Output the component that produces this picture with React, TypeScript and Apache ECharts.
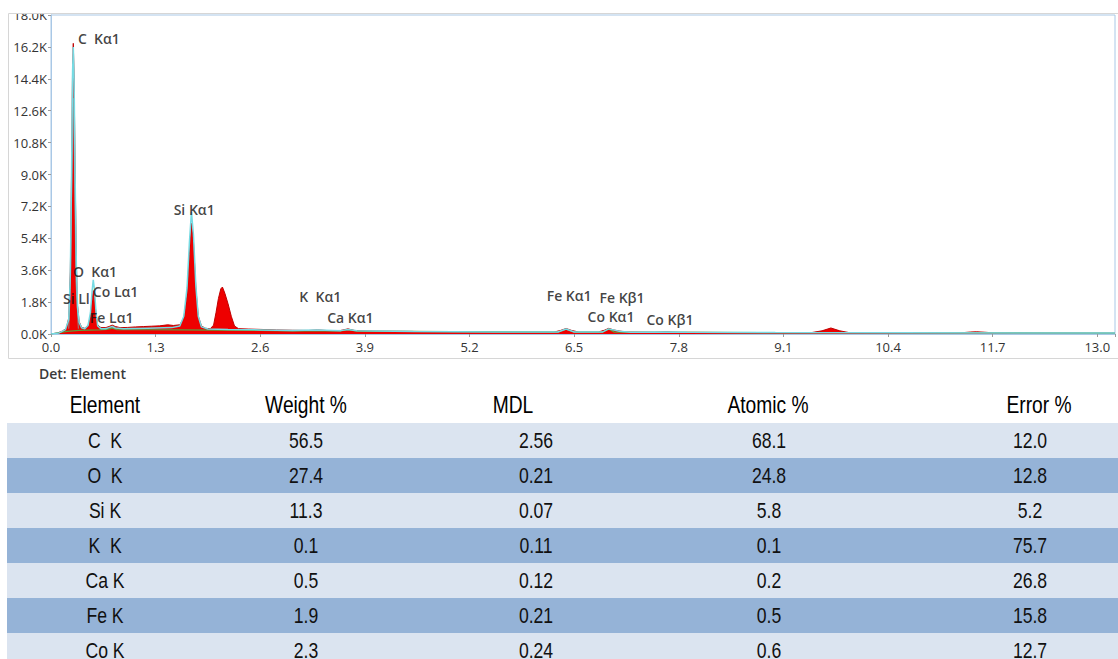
import React, { useEffect, useRef } from "react";
import * as echarts from "echarts";

// ---------- spectrum data (keV, counts) ----------
const measuredEnergy = [0, 0.08, 0.14, 0.19, 0.22, 0.24, 0.255, 0.268, 0.277, 0.287, 0.3, 0.315, 0.33, 0.35, 0.38, 0.42, 0.46, 0.49, 0.51, 0.525, 0.54, 0.56, 0.58, 0.62, 0.68, 0.72, 0.76, 0.8, 0.86, 0.95, 1.05, 1.15, 1.25, 1.35, 1.45, 1.52, 1.6, 1.65, 1.69, 1.72, 1.745, 1.77, 1.8, 1.83, 1.87, 1.92, 1.98, 2.02, 2.05, 2.08, 2.11, 2.13, 2.16, 2.2, 2.24, 2.28, 2.33, 2.45, 2.6, 2.8, 3.0, 3.2, 3.31, 3.45, 3.6, 3.69, 3.78, 4.1, 4.6, 5.2, 5.8, 6.25, 6.33, 6.4, 6.47, 6.56, 6.8, 6.88, 6.93, 6.99, 7.06, 7.15, 7.5, 7.65, 7.8, 8.4, 9.0, 9.45, 9.58, 9.69, 9.8, 9.92, 10.6, 11.3, 11.42, 11.5, 11.6, 11.72, 12.5, 13.22];
const measuredCounts = [0, 60, 160, 320, 900, 3500, 9000, 15000, 16400, 14500, 9000, 4000, 1600, 700, 380, 320, 450, 1000, 1900, 2450, 2100, 1100, 500, 360, 360, 420, 500, 420, 360, 370, 400, 420, 440, 460, 520, 480, 520, 900, 2200, 4500, 6250, 5200, 2600, 1000, 450, 320, 300, 500, 1200, 2000, 2550, 2650, 2300, 1700, 1000, 450, 300, 280, 260, 230, 210, 200, 230, 190, 200, 290, 190, 160, 140, 120, 110, 110, 200, 310, 200, 110, 110, 220, 320, 230, 170, 110, 100, 120, 95, 85, 80, 80, 180, 340, 180, 75, 70, 65, 110, 125, 100, 60, 55, 50];

const fitEnergy = [0, 0.1, 0.18, 0.22, 0.24, 0.255, 0.268, 0.277, 0.287, 0.3, 0.315, 0.33, 0.35, 0.38, 0.42, 0.46, 0.49, 0.51, 0.525, 0.54, 0.56, 0.58, 0.62, 0.68, 0.72, 0.76, 0.8, 0.9, 1.2, 1.5, 1.6, 1.65, 1.69, 1.72, 1.745, 1.77, 1.8, 1.83, 1.87, 1.95, 2.2, 2.6, 3.0, 3.31, 3.6, 3.69, 3.8, 4.5, 5.5, 6.3, 6.4, 6.5, 6.85, 6.93, 7.06, 7.2, 7.65, 7.9, 9.0, 10.5, 12.0, 13.22];
const fitCounts = [0, 60, 250, 800, 3300, 8800, 14800, 16200, 14300, 8800, 3900, 1500, 650, 350, 300, 480, 1200, 2400, 3050, 2500, 1200, 450, 300, 300, 360, 420, 340, 300, 330, 360, 450, 1000, 2600, 5200, 6900, 5600, 2700, 1000, 400, 280, 260, 230, 200, 220, 190, 260, 180, 140, 115, 110, 280, 110, 110, 290, 160, 105, 115, 95, 80, 70, 60, 55];

const bgEnergy = [0, 0.2, 0.35, 0.6, 0.7, 0.76, 0.82, 1.2, 1.6, 2.0, 2.6, 3.0, 3.6, 3.69, 3.8, 5.0, 6.3, 6.4, 6.5, 6.85, 6.93, 7.0, 8.0, 10.0, 13.22];
const bgCounts = [0, 150, 200, 230, 260, 330, 250, 240, 230, 220, 200, 180, 170, 240, 160, 130, 110, 270, 110, 105, 280, 105, 90, 70, 55];

const cEnergy = [0.22, 0.24, 0.26, 0.277, 0.29, 0.31, 0.34];
const cCounts = [300, 2500, 9000, 13300, 10000, 3000, 300];

// peak labels (anchor in keV / counts)
const peakNames = ["C  K\u03b11", "Si K\u03b11", "O  K\u03b11", "Co L\u03b11", "Si Ll", "Fe L\u03b11", "K  K\u03b11", "Ca K\u03b11", "Fe K\u03b11", "Fe K\u03b21", "Co K\u03b11", "Co K\u03b21"];
const peakLabelEnergy = [0.335, 1.524, 0.273, 0.52, 0.149, 0.483, 3.086, 3.432, 6.159, 6.815, 6.667, 7.398];
const peakLabelCounts = [16650, 7030, 3544, 2419, 2025, 956, 2138, 956, 2194, 2081, 1013, 844];

// ---------- table data ----------
const tableHeaders = ["Element", "Weight %", "MDL", "Atomic %", "Error %"];
const elements = ["C  K", "O  K", "Si K", "K  K", "Ca K", "Fe K", "Co K"];
const weightPct = ["56.5", "27.4", "11.3", "0.1", "0.5", "1.9", "2.3"];
const mdl = ["2.56", "0.21", "0.07", "0.11", "0.12", "0.21", "0.24"];
const atomicPct = ["68.1", "24.8", "5.8", "0.1", "0.2", "0.5", "0.6"];
const errorPct = ["12.0", "12.8", "5.2", "75.7", "26.8", "15.8", "12.7"];

const zip = (xs: number[], ys: number[]) => xs.map((x, i) => [x, ys[i]]);

export default function App() {
  const ref = useRef<HTMLDivElement>(null);
  useEffect(() => {
    if (!ref.current) return;
    const chart = echarts.init(ref.current, undefined, { renderer: "svg" });

    const headerX = [105, 306, 513, 768, 1039];
    const cellX = [105, 306, 536, 769, 1030];
    const rowTop = 423;
    const rowH = 35;
    const cols = [elements, weightPct, mdl, atomicPct, errorPct];

    const graphics: any[] = [];
    // cover the top of the cropped picture + outer frame
    graphics.push({ type: "rect", z: 100, shape: { x: 0, y: 0, width: 1118, height: 14 }, style: { fill: "#ffffff" } });
    graphics.push({ type: "rect", z: 101, shape: { x: 8.5, y: 13.5, width: 1130, height: 345 }, style: { fill: "none", stroke: "#d6d6d6", lineWidth: 1 } });
    graphics.push({ type: "text", z: 101, x: 39, y: 373, style: { text: "Det: Element", fill: "#3a3a3a", font: "600 14px 'Open Sans'", textVerticalAlign: "middle" } });
    tableHeaders.forEach((h, i) => {
      graphics.push({ type: "text", z: 101, x: headerX[i], y: 405, scaleX: 0.8, style: { text: h, fill: "#000", font: "24px 'Liberation Sans'", textAlign: "center", textVerticalAlign: "middle" } });
    });
    elements.forEach((_, r) => {
      graphics.push({ type: "rect", z: 100, shape: { x: 7, y: rowTop + r * rowH, width: 1111, height: rowH }, style: { fill: r % 2 === 0 ? "#dbe4f0" : "#95b3d7" } });
      cols.forEach((col, c) => {
        graphics.push({ type: "text", z: 101, x: cellX[c], y: rowTop + r * rowH + rowH / 2, scaleX: 0.8, style: { text: col[r], fill: "#111", font: "22px 'Liberation Sans'", textAlign: "center", textVerticalAlign: "middle" } });
      });
    });

    const fmtX = (v: number) => {
      const k = v / 1.3;
      return Math.abs(k - Math.round(k)) < 1e-6 ? v.toFixed(1) : "";
    };

    chart.setOption({
      animation: false,
      grid: { left: 51, top: 15, right: 0, bottom: 325, show: true, borderColor: "#a9c8e6", borderWidth: 1, containLabel: false },
      xAxis: {
        type: "value", min: 0, max: 13.22, interval: 1.3,
        axisLine: { lineStyle: { color: "#a9c8e6" } },
        axisTick: { show: true, length: 3, lineStyle: { color: "#9a9a9a" } },
        splitLine: { show: false },
        axisLabel: { formatter: fmtX, color: "#333", fontSize: 13, fontFamily: "Open Sans", margin: 6 },
      },
      yAxis: {
        type: "value", min: 0, max: 18000, interval: 1800,
        axisLine: { show: true, lineStyle: { color: "#a9c8e6" } },
        axisTick: { show: true, length: 3, lineStyle: { color: "#9a9a9a" } },
        splitLine: { show: false },
        axisLabel: { formatter: (v: number) => (v / 1000).toFixed(1) + "K", color: "#333", fontSize: 13, fontFamily: "Open Sans", margin: 4 },
      },
      series: [
        {
          type: "line", data: zip(measuredEnergy, measuredCounts), symbol: "none",
          lineStyle: { color: "#c00000", width: 1 }, areaStyle: { color: "#ee0000", opacity: 1 }, z: 2,
        },
        { type: "line", data: zip(cEnergy, cCounts), symbol: "none", lineStyle: { color: "#8a8a8a", width: 1 }, z: 3 },
        { type: "line", data: zip(bgEnergy, bgCounts), symbol: "none", lineStyle: { color: "#5a9e3c", width: 1.2 }, z: 3 },
        { type: "line", data: zip(fitEnergy, fitCounts), symbol: "none", lineStyle: { color: "#76dbe3", width: 1.5 }, z: 4 },
        {
          type: "scatter", symbolSize: 0, z: 5,
          data: peakNames.map((n, i) => ({ name: n, value: [peakLabelEnergy[i], peakLabelCounts[i]] })),
          label: {
            show: true, formatter: (p: any) => p.name, position: [0, 0], align: "left", verticalAlign: "middle",
            color: "#111", fontSize: 14, fontWeight: 600, fontFamily: "Open Sans",
          },
        },
      ],
      graphic: graphics,
    });
    return () => chart.dispose();
  }, []);
  return <div ref={ref} style={{ position: "absolute", left: 0, top: 0, width: 1118, height: 659, background: "#fff" }} />;
}
